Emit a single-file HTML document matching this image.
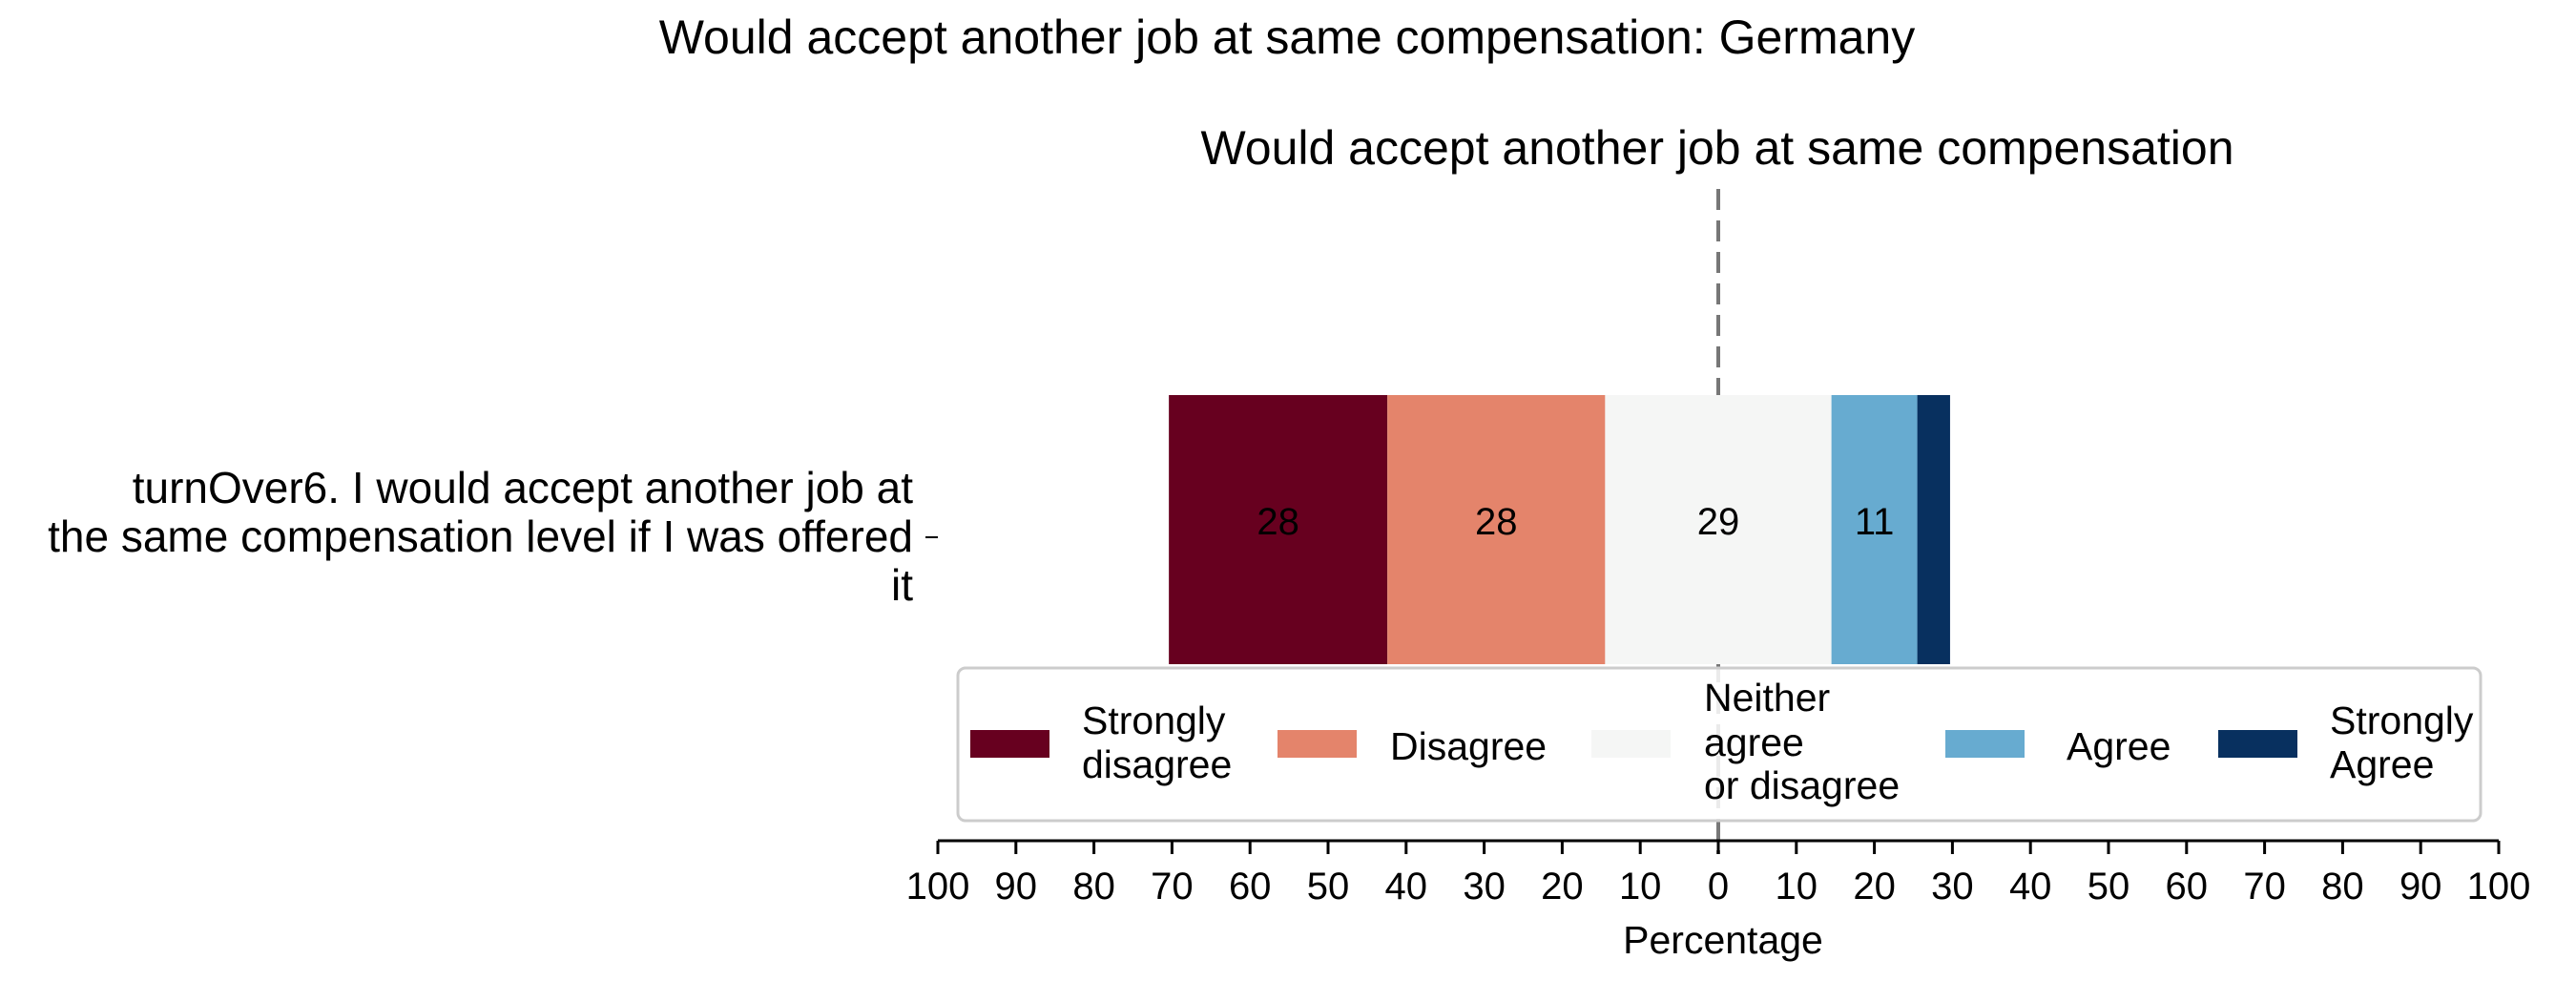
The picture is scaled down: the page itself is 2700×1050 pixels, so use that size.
<!DOCTYPE html>
<html><head><meta charset="utf-8"><style>
html,body{margin:0;padding:0;background:#fff;}
svg{display:block;font-family:"Liberation Sans",Arial,sans-serif;}
</style></head><body>
<svg id="chart" width="2700" height="1050" viewBox="0 0 2700 1050">
<text x="1349" y="56" font-size="50" text-anchor="middle">Would accept another job at same compensation: Germany</text>
<text x="1800" y="172" font-size="50" text-anchor="middle">Would accept another job at same compensation</text>
<line x1="1801" y1="198" x2="1801" y2="895" stroke="#777" stroke-width="4" stroke-dasharray="22 11"/>
<g id="bars"></g>
<g id="ylab">
<text x="957" y="527" font-size="46" text-anchor="end">turnOver6. I would accept another job at</text>
<text x="957" y="578" font-size="46" text-anchor="end">the same compensation level if I was offered</text>
<text x="957" y="629" font-size="46" text-anchor="end">it</text>
</g>
<line x1="970" y1="563" x2="983" y2="563" stroke="#000" stroke-width="2"/>
<g>
<rect x="1004" y="700" width="1596" height="160" rx="8" fill="#fff" fill-opacity="0.85" stroke="#ccc" stroke-width="3"/>
<g><rect x="1017" y="765" width="83" height="29" fill="#67001f"/><text x="1134" y="769" font-size="41">Strongly</text><text x="1134" y="815" font-size="41">disagree</text></g>
<g><rect x="1339" y="765" width="83" height="29" fill="#e4846b"/><text x="1457" y="796" font-size="41">Disagree</text></g>
<g><rect x="1668" y="765" width="83" height="29" fill="#f5f6f5"/><text x="1786" y="745" font-size="41">Neither</text><text x="1786" y="792" font-size="41">agree</text><text x="1786" y="837" font-size="41">or disagree</text></g>
<g><rect x="2039" y="765" width="83" height="29" fill="#67abd0"/><text x="2166" y="796" font-size="41">Agree</text></g>
<g><rect x="2325" y="765" width="83" height="29" fill="#08305f"/><text x="2442" y="769" font-size="41">Strongly</text><text x="2442" y="815" font-size="41">Agree</text></g>
</g>
<line x1="983" y1="881" x2="2619" y2="881" stroke="#000" stroke-width="3"/>
<g id="xticks"></g>
<text x="1806" y="999" font-size="41" text-anchor="middle">Percentage</text>
</svg>
<script>
const categories = ["Strongly disagree","Disagree","Neither agree or disagree","Agree","Strongly Agree"];
const values = [28.0, 27.9, 29.0, 11.0, 4.2];
const printedValues = ["28","28","29","11",""];
const colors = ["#67001f","#e4846b","#f5f6f5","#67abd0","#08305f"];
const tickValues = [-100,-90,-80,-70,-60,-50,-40,-30,-20,-10,0,10,20,30,40,50,60,70,80,90,100];
const NS="http://www.w3.org/2000/svg";
function xs(v){return 1801 + v*8.18;}
const barTop=414, barBot=696;
let start = -(values[0]+values[1]+values[2]/2);
const g=document.getElementById('bars');
values.forEach((v,i)=>{
  const r=document.createElementNS(NS,'rect');
  r.setAttribute('x',xs(start));r.setAttribute('y',barTop);
  r.setAttribute('width',xs(start+v)-xs(start));r.setAttribute('height',barBot-barTop);
  r.setAttribute('fill',colors[i]);
  
  
  g.appendChild(r);
  if(printedValues[i]){
    const t=document.createElementNS(NS,'text');
    t.setAttribute('x',xs(start+v/2));t.setAttribute('y',560);
    t.setAttribute('font-size','40');t.setAttribute('text-anchor','middle');
    t.textContent=printedValues[i];
    
    
    g.appendChild(t);
  }
  start+=v;
});
const xt=document.getElementById('xticks');
tickValues.forEach(v=>{
  const l=document.createElementNS(NS,'line');
  l.setAttribute('x1',xs(v));l.setAttribute('x2',xs(v));l.setAttribute('y1',881);l.setAttribute('y2',895);
  l.setAttribute('stroke','#000');l.setAttribute('stroke-width','3');
  
  
  xt.appendChild(l);
  const t=document.createElementNS(NS,'text');
  t.setAttribute('x',xs(v));t.setAttribute('y',942);t.setAttribute('font-size','40');t.setAttribute('text-anchor','middle');
  t.textContent=Math.abs(v);
  
  
  xt.appendChild(t);
});
</script>
</body></html>
